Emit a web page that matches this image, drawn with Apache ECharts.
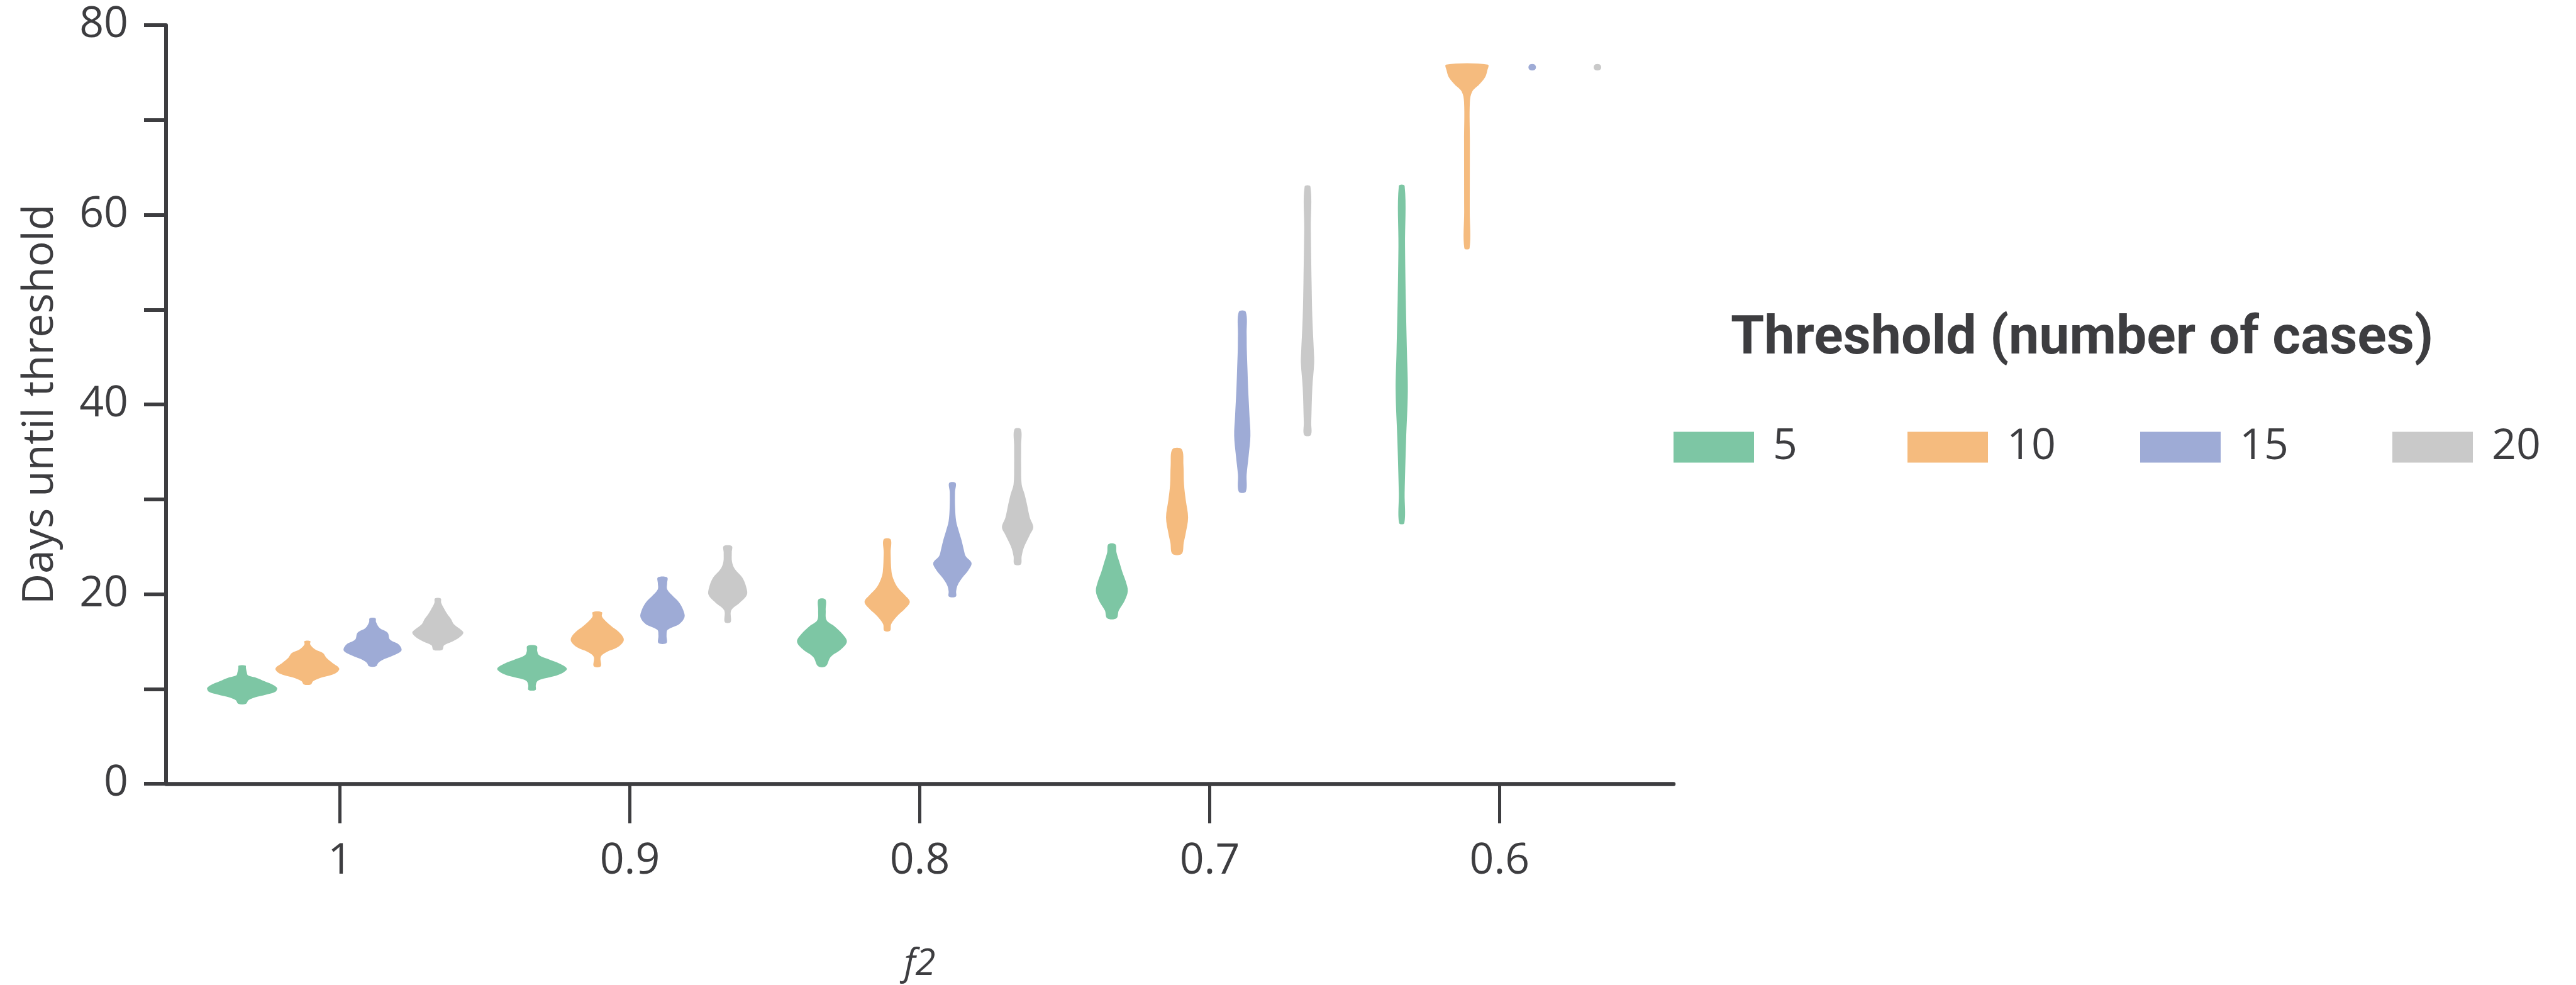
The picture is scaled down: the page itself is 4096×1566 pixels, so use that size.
<!DOCTYPE html>
<html>
<head>
<meta charset="utf-8">
<style>
html, body { margin: 0; padding: 0; background: #fff; }
#chart { width: 4096px; height: 1566px; }
</style>
<script src="https://cdn.jsdelivr.net/npm/echarts@6/dist/echarts.min.js"></script>
</head>
<body>
<div id="chart"></div>
<script>
// f2 groups along the x axis
var f2Labels = ['1', '0.9', '0.8', '0.7', '0.6'];
var thresholds = ['5', '10', '15', '20'];
var yLabelValues = [0, 20, 40, 60, 80];

// violin outlines, one per f2 group: [days, half width in f2 steps]
var violins5 = [
    [[12.45, .012], [12.2, .013], [11.75, .016], [11.43, .02], [11.22, .044], [10.9, .07], [10.5, .102], [10.2, .118], [10.0, .121], [9.68, .114], [9.4, .084], [9.1, .044], [8.8, .022], [8.42, .013]],
    [[14.53, .016], [13.98, .018], [13.57, .024], [13.16, .054], [12.65, .096], [12.14, .12], [11.73, .108], [11.32, .074], [11.0, .03], [10.8, .018], [10.4, .013], [9.89, .012]],
    [[19.44, .012], [18.27, .013], [17.25, .016], [16.64, .042], [15.82, .07], [15.0, .086], [14.18, .066], [13.37, .03], [12.38, .013]],
    [[25.26, .012], [24.4, .016], [23.38, .026], [22.36, .036], [21.34, .048], [20.31, .055], [19.29, .044], [18.27, .024], [17.45, .016]],
    [[63.03, .01], [56.65, .0114], [51.07, .014], [45.5, .018], [41.42, .021], [36.21, .015], [30.64, .01], [27.48, .009]]
];
var violins10 = [
    [[15.04, .01], [14.69, .01], [14.18, .026], [13.78, .054], [13.26, .066], [12.75, .086], [12.14, .11], [11.63, .096], [11.22, .052], [10.81, .02], [10.47, .012]],
    [[18.1, .016], [17.66, .016], [17.25, .026], [16.64, .048], [16.02, .074], [15.41, .09], [15.0, .09], [14.39, .07], [13.88, .032], [13.37, .012], [12.38, .012]],
    [[25.77, .012], [24.4, .012], [22.36, .015], [21.54, .022], [20.72, .036], [19.91, .06], [19.19, .078], [18.47, .062], [17.66, .034], [16.84, .014], [16.13, .01]],
    [[35.27, .016], [33.6, .022], [31.56, .024], [29.92, .03], [28.08, .038], [26.44, .03], [25.42, .023], [24.24, .016]],
    [[75.84, .072], [75.21, .07], [74.47, .062], [73.73, .042], [72.99, .018], [71.87, .01], [67.78, .01], [60.36, .0096], [56.47, .009]]
];
var violins15 = [
    [[17.45, .01], [17.04, .012], [16.43, .024], [15.92, .052], [15.2, .06], [14.69, .09], [14.08, .1], [13.67, .082], [13.16, .042], [12.75, .02], [12.38, .012]],
    [[21.75, .016], [21.13, .016], [20.52, .016], [19.91, .032], [19.09, .058], [18.27, .072], [17.56, .076], [16.84, .058], [16.23, .018], [15.62, .014], [14.84, .014]],
    [[31.72, .011], [30.74, .009], [29.1, .0094], [27.67, .013], [26.65, .022], [25.63, .032], [24.6, .04], [23.99, .046], [23.28, .066], [22.56, .056], [21.75, .035], [20.93, .018], [20.31, .013], [19.74, .012]],
    [[49.77, .012], [47.4, .015], [45.9, .0155], [43.6, .018], [41.8, .02], [38.7, .025], [36.7, .028], [34.6, .022], [32.6, .015], [30.8, .012]],
    [[75.85, .008], [75.55, .013], [75.27, .008]]
];
var violins20 = [
    [[19.54, .01], [19.09, .0116], [18.47, .0216], [17.86, .0335], [17.35, .046], [16.84, .055], [16.33, .076], [15.92, .088], [15.41, .0736], [15.0, .05], [14.59, .0216], [14.12, .0154]],
    [[25.06, .014], [24.4, .014], [23.38, .015], [22.67, .024], [21.75, .05], [20.72, .064], [19.91, .066], [19.09, .042], [18.27, .012], [17.04, .01]],
    [[37.38, .011], [35.64, .012], [33.6, .012], [31.56, .014], [30.53, .024], [29.51, .032], [28.08, .042], [27.06, .054], [26.24, .042], [25.02, .023], [24.0, .014], [23.14, .011]],
    [[62.97, .01], [58.5, .0114], [52.93, .014], [49.2, .0166], [45.5, .022], [44.39, .023], [41.78, .0166], [38.07, .0128], [36.77, .0114]],
    [[75.85, .008], [75.55, .013], [75.27, .008]]
];

var allViolins = [violins5, violins10, violins15, violins20];
var colors = ['#7dc6a4', '#f5bb7e', '#9eabd6', '#c9c9c9'];
var offsets = [-0.3375, -0.1125, 0.1125, 0.3375];
var ink = '#3d3d40';

var chart = echarts.init(document.getElementById('chart'));

function violinSeries(idx) {
    var profiles = allViolins[idx];
    return {
        type: 'custom',
        name: thresholds[idx],
        itemStyle: { color: colors[idx] },
        data: profiles.map(function (p, i) { return [i, p[0][0]]; }),
        clip: false,
        renderItem: function (params, api) {
            var prof = profiles[params.dataIndex];
            var cx = api.value(0) + offsets[idx];
            var unit = api.size([1, 0])[0];
            var px = api.coord([cx, 0])[0];
            var right = prof.map(function (p) {
                return [px + p[1] * unit, api.coord([cx, p[0]])[1]];
            });
            var left = prof.slice().reverse().map(function (p) {
                return [px - p[1] * unit, api.coord([cx, p[0]])[1]];
            });
            return {
                type: 'polygon',
                shape: { points: right.concat(left), smooth: 0.35 },
                style: { fill: colors[idx] }
            };
        }
    };
}

var legendLeft = [2661, 3033, 3403, 3804];

var option = {
    animation: false,
    backgroundColor: '#fff',
    textStyle: { fontFamily: 'Open Sans', color: ink },
    title: {
        text: 'Threshold (number of cases)',
        left: 2752,
        top: 497,
        padding: 0,
        textStyle: {
            fontFamily: 'Roboto',
            fontWeight: 'bold',
            fontSize: 86,
            lineHeight: 86,
            color: ink
        }
    },
    legend: thresholds.map(function (t, i) {
        return {
            data: [t],
            left: legendLeft[i],
            top: 677,
            padding: 0,
            icon: 'rect',
            itemWidth: 128,
            itemHeight: 49,
            itemStyle: { borderWidth: 0 },
            selectedMode: false,
            textStyle: { fontSize: 68, color: ink, padding: [0, 0, 0, 25] }
        };
    }),
    grid: {
        left: 264,
        right: 1435,
        top: 40,
        bottom: 320,
        containLabel: false,
        outerBoundsMode: 'none'
    },
    xAxis: {
        type: 'value',
        min: -0.6,
        max: 4.6,
        name: 'f2',
        nameLocation: 'middle',
        nameGap: 258,
        nameTextStyle: { fontStyle: 'italic', fontSize: 58, color: ink },
        axisLine: { show: true, onZero: false, lineStyle: { color: ink, width: 6.5 } },
        axisTick: { show: true, length: 63, customValues: [0, 1, 2, 3, 4], lineStyle: { color: ink, width: 5 } },
        axisLabel: {
            customValues: [0, 1, 2, 3, 4],
            formatter: function (v) { return f2Labels[Math.round(v)]; },
            margin: 90,
            fontSize: 68,
            color: ink
        },
        splitLine: { show: false }
    },
    yAxis: {
        type: 'value',
        min: 0,
        max: 80,
        interval: 10,
        name: 'Days until threshold',
        nameLocation: 'middle',
        nameGap: 165,
        nameTextStyle: { fontSize: 68, color: ink },
        axisLine: { show: true, onZero: false, lineStyle: { color: ink, width: 6 } },
        axisTick: { show: true, length: 35, lineStyle: { color: ink, width: 6 } },
        axisLabel: {
            customValues: yLabelValues,
            margin: 60,
            fontSize: 68,
            color: ink
        },
        splitLine: { show: false }
    },
    series: [0, 1, 2, 3].map(violinSeries)
};

chart.setOption(option);
</script>
</body>
</html>
